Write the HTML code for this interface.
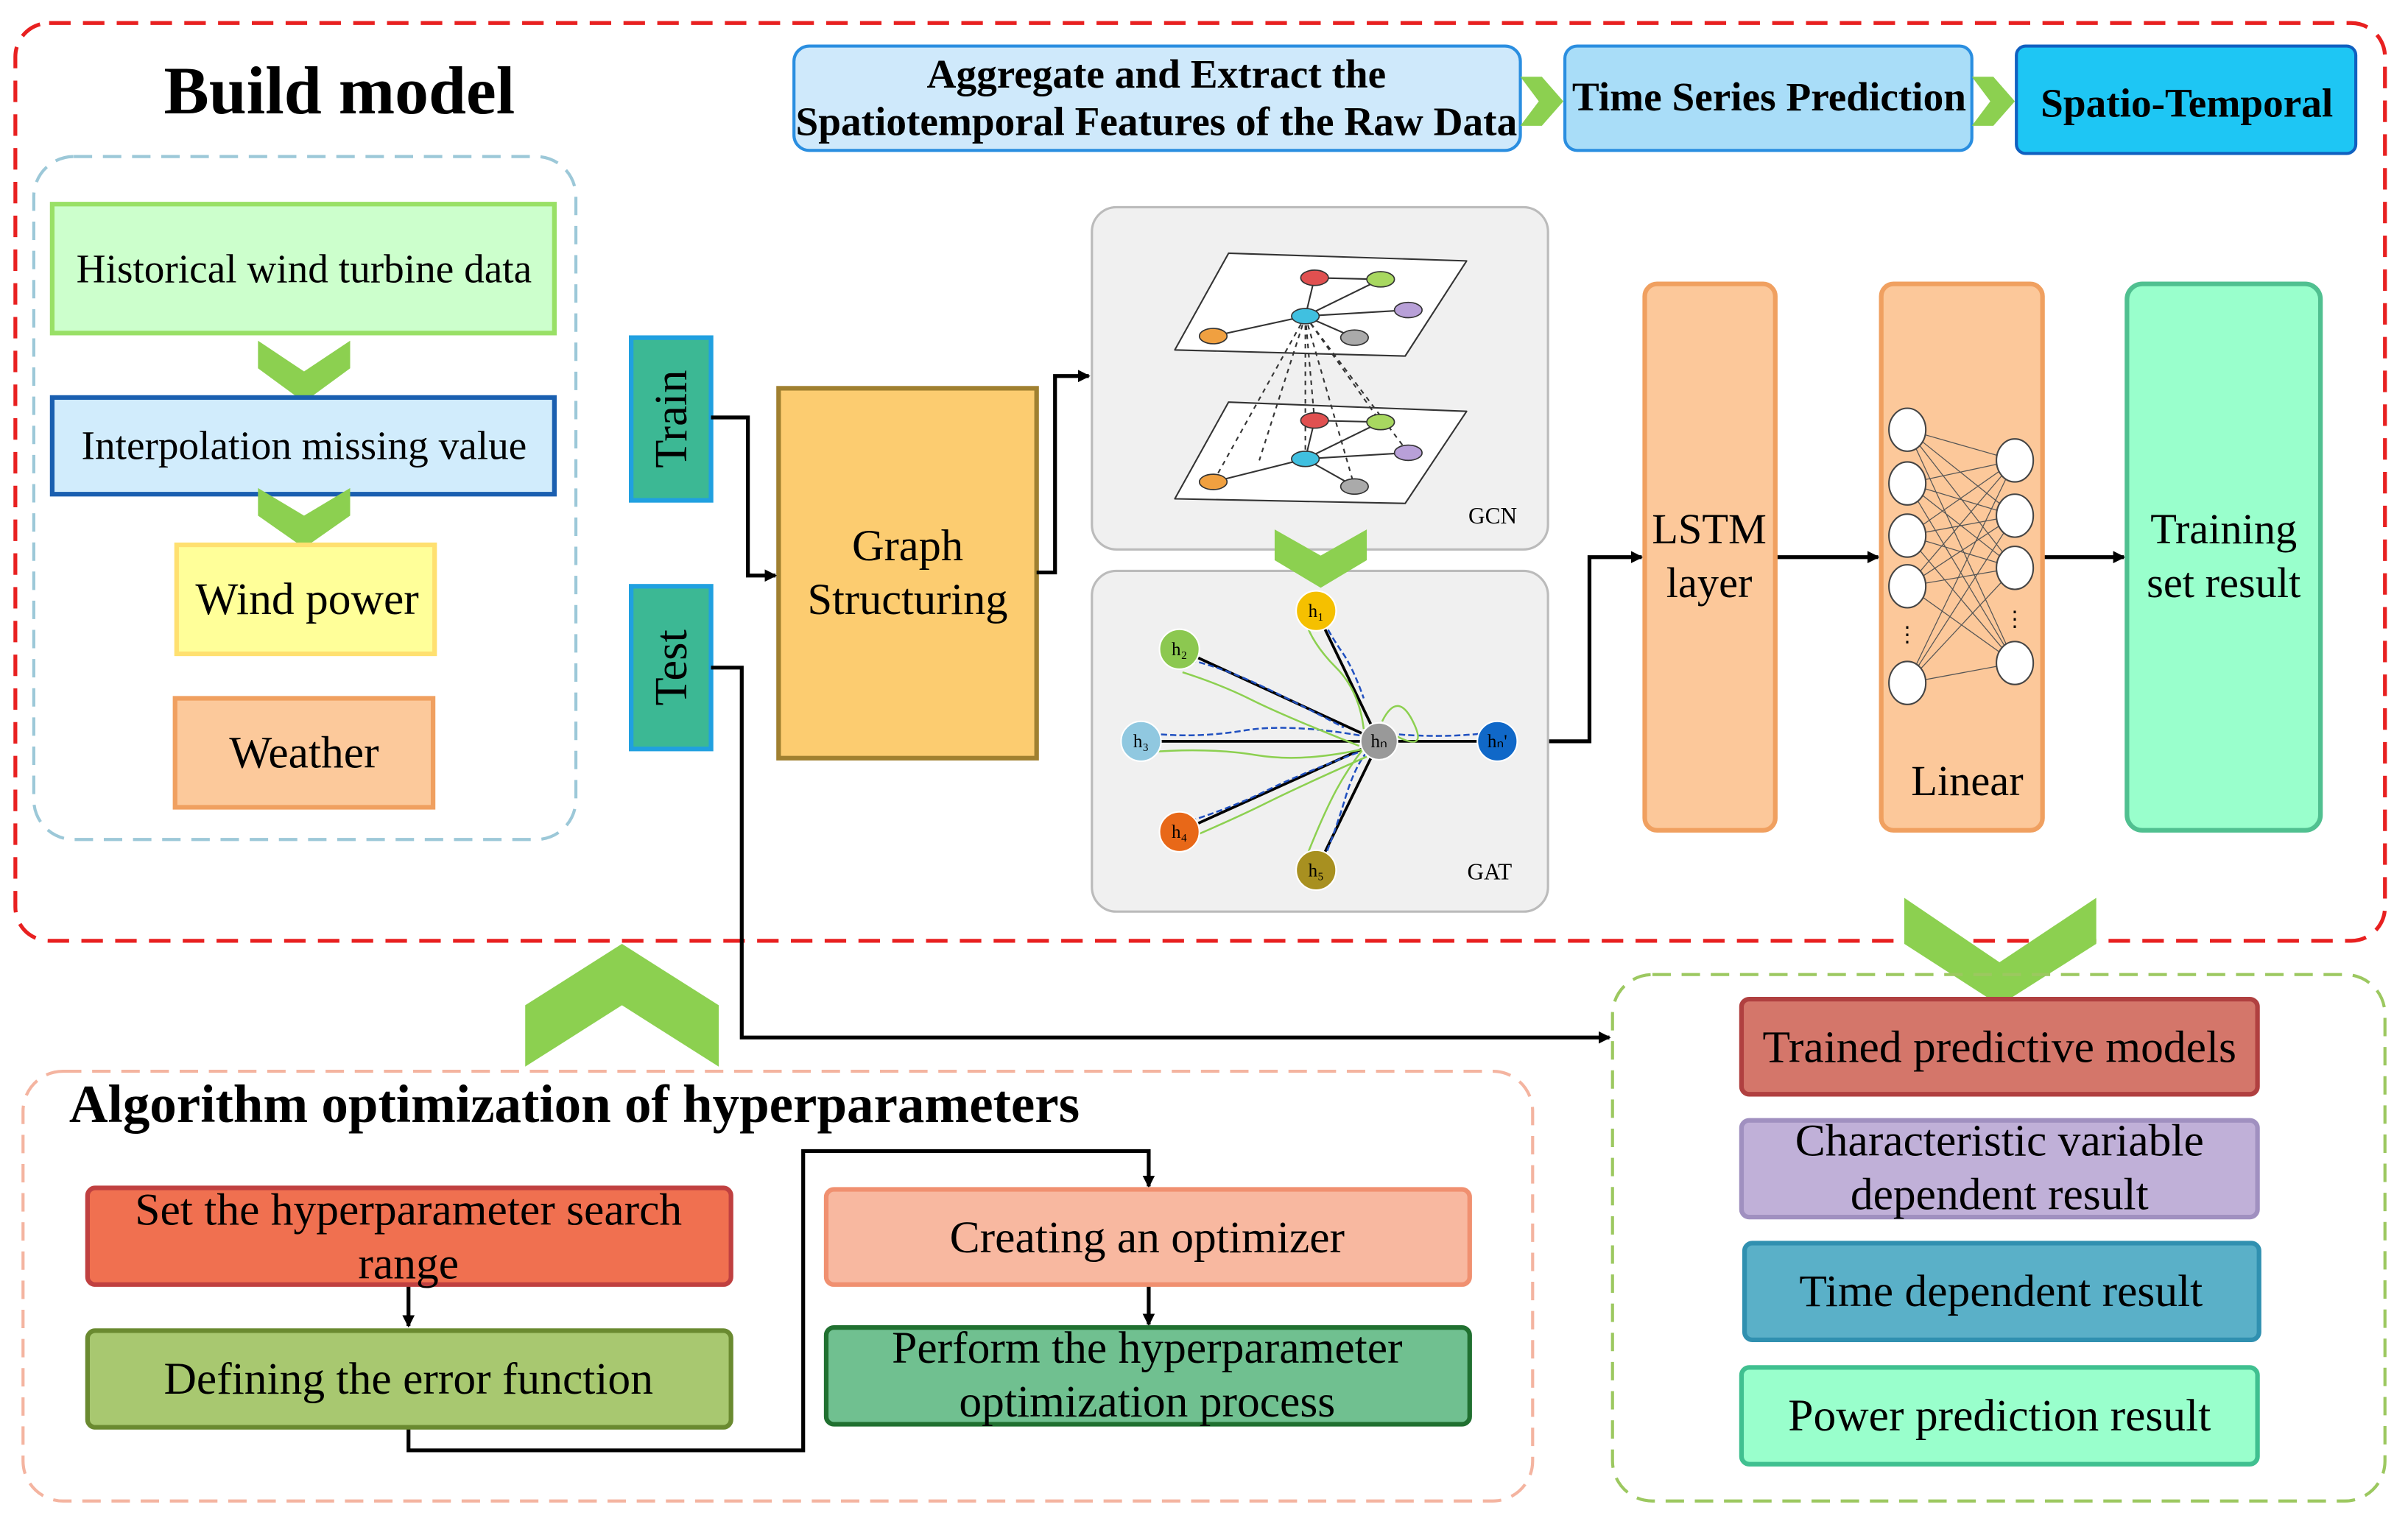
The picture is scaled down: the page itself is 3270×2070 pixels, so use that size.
<!DOCTYPE html>
<html><head><meta charset="utf-8"><style>
html,body{margin:0;padding:0;background:#fff;}
svg{display:block;}
text{font-family:"Liberation Serif",serif;}
</style></head><body>
<svg width="3270" height="2070" viewBox="0 0 1568 993" preserveAspectRatio="none" xmlns="http://www.w3.org/2000/svg">
<defs>
<marker id="ar" markerWidth="8" markerHeight="8" refX="7" refY="4" orient="auto" markerUnits="userSpaceOnUse"><path d="M0,0 L8,4 L0,8 Z" fill="#000"/></marker>
</defs>
<rect x="0" y="0" width="1568" height="993" fill="#fff"/>
<rect x="10" y="15" width="1543" height="598" rx="22" fill="none" stroke="#e82020" stroke-width="2.5" stroke-dasharray="14,8"/>
<text x="221" y="74" font-size="44" font-weight="bold" text-anchor="middle">Build model</text>
<rect x="517" y="30" width="473" height="68" rx="10" fill="#cfe9fb" stroke="#2a8ee0" stroke-width="2"/>
<text x="753" y="57" font-size="26.5" font-weight="bold" text-anchor="middle">Aggregate and Extract the</text>
<text x="753" y="88" font-size="26.5" font-weight="bold" text-anchor="middle">Spatiotemporal Features of the Raw Data</text>
<path d="M990,50 L1004,50 L1018,66 L1004,82 L990,82 L1002,66 Z" fill="#8cd050"/>
<rect x="1019" y="30" width="265" height="68" rx="8" fill="#a9ddf8" stroke="#2a8ee0" stroke-width="2"/>
<text x="1152" y="72" font-size="26.5" font-weight="bold" text-anchor="middle">Time Series Prediction</text>
<path d="M1284,50 L1298,50 L1312,66 L1298,82 L1284,82 L1296,66 Z" fill="#8cd050"/>
<rect x="1313" y="30" width="221" height="70" rx="6" fill="#1ec6f4" stroke="#1060c0" stroke-width="2"/>
<text x="1424" y="76" font-size="26.5" font-weight="bold" text-anchor="middle">Spatio-Temporal</text>
<rect x="22" y="102" width="353" height="445" rx="26" fill="none" stroke="#9cc8d8" stroke-width="2" stroke-dasharray="12,7"/>
<rect x="34" y="133" width="327" height="84" fill="#ccffcc" stroke="#99e066" stroke-width="3"/>
<text x="198" y="184" font-size="26.5" text-anchor="middle">Historical wind turbine data</text>
<path d="M168,222 L198,242 L228,222 L228,240 L198,262 L168,240 Z" fill="#8cd050"/>
<rect x="34" y="259" width="327" height="63" fill="#d1ecfc" stroke="#1a5fb0" stroke-width="3"/>
<text x="198" y="299" font-size="26.5" text-anchor="middle">Interpolation missing value</text>
<path d="M168,318 L198,336 L228,318 L228,336 L198,357 L168,336 Z" fill="#8cd050"/>
<rect x="115" y="355" width="168" height="71" fill="#ffff99" stroke="#ffe070" stroke-width="3"/>
<text x="200" y="400" font-size="29.5" text-anchor="middle">Wind power</text>
<rect x="114" y="455" width="168" height="71" fill="#fcc99b" stroke="#f0a060" stroke-width="3"/>
<text x="198" y="500" font-size="29.5" text-anchor="middle">Weather</text>
<rect x="411" y="220" width="52" height="106" fill="#3cb894" stroke="#20a0e0" stroke-width="3"/>
<text transform="translate(447,273) rotate(-90)" font-size="30" text-anchor="middle">Train</text>
<rect x="411" y="382" width="52" height="106" fill="#3cb894" stroke="#20a0e0" stroke-width="3"/>
<text transform="translate(447,435) rotate(-90)" font-size="30" text-anchor="middle">Test</text>
<rect x="507" y="253" width="168" height="241" fill="#fccc70" stroke="#a08030" stroke-width="3"/>
<text x="591" y="365" font-size="29" text-anchor="middle">Graph</text>
<text x="591" y="400" font-size="29" text-anchor="middle">Structuring</text>
<g fill="none" stroke="#000" stroke-width="2.5">
<path d="M463,272 H487 V375 H505" marker-end="url(#ar)"/>
<path d="M675,373 H687 V245 H709" marker-end="url(#ar)"/>
<path d="M463,435 H483 V676 H1048" marker-end="url(#ar)"/>
<path d="M1008,483 H1035 V363 H1069" marker-end="url(#ar)"/>
<path d="M1156,363 H1223" marker-end="url(#ar)"/>
<path d="M1330,363 H1383" marker-end="url(#ar)"/>
<path d="M266,837 V864" marker-end="url(#ar)"/>
<path d="M266,930 V945 H523 V750 H748 V773" marker-end="url(#ar)"/>
<path d="M748,837 V863" marker-end="url(#ar)"/>
</g>
<rect x="711" y="135" width="297" height="223" rx="16" fill="#f0f0f0" stroke="#bbb" stroke-width="1.5"/>
<g stroke="#333" stroke-width="1" fill="#fff">
<path d="M800,165 L955,170 L915,232 L765,228 Z" stroke-linejoin="round"/>
<path d="M800,262 L955,268 L915,328 L765,325 Z" stroke-linejoin="round"/>
</g>
<g stroke="#333" stroke-width="1" fill="none">
<path d="M790,219 L850,206 L856,181 M850,206 L899,182 M850,206 L917,202 M850,206 L882,220 M856,181 L899,182"/>
<path d="M790,314 L850,299 L856,274 M850,299 L899,275 M850,299 L917,295 M850,299 L882,317 M856,274 L899,275"/>
<path d="M850,206 L790,314 M850,206 L850,299 M850,206 L882,317 M850,206 L917,295 M850,206 L856,274 M850,206 L899,275 M850,206 L820,300" stroke-dasharray="3,3"/>
</g>
<g stroke="#333" stroke-width="0.8">
<ellipse cx="856" cy="181" rx="9" ry="5" fill="#e05050"/><ellipse cx="899" cy="182" rx="9" ry="5" fill="#a8d860"/>
<ellipse cx="850" cy="206" rx="9" ry="5" fill="#40c0e0"/><ellipse cx="917" cy="202" rx="9" ry="5" fill="#b8a0d8"/>
<ellipse cx="790" cy="219" rx="9" ry="5" fill="#f0a040"/><ellipse cx="882" cy="220" rx="9" ry="5" fill="#aaa"/>
<ellipse cx="856" cy="274" rx="9" ry="5" fill="#e05050"/><ellipse cx="899" cy="275" rx="9" ry="5" fill="#a8d860"/>
<ellipse cx="850" cy="299" rx="9" ry="5" fill="#40c0e0"/><ellipse cx="917" cy="295" rx="9" ry="5" fill="#b8a0d8"/>
<ellipse cx="790" cy="314" rx="9" ry="5" fill="#f0a040"/><ellipse cx="882" cy="317" rx="9" ry="5" fill="#aaa"/>
</g>
<text x="972" y="341" font-size="15" text-anchor="middle">GCN</text>
<rect x="711" y="372" width="297" height="222" rx="16" fill="#f0f0f0" stroke="#bbb" stroke-width="1.5"/>
<g fill="none" stroke-width="1.2">
<path d="M857,398 L898,483 M768,423 L898,483 M743,483 L898,483 M768,542 L898,483 M857,567 L898,483 M898,483 L975,483" stroke="#000" stroke-width="1.8"/>
<path d="M862,405 q5,10 12,20 t14,30 M775,430 q20,5 40,14 t60,30 M750,478 q30,3 60,-2 t80,4 M775,535 q30,-10 50,-20 t60,-25 M862,560 q8,-20 14,-40 t14,-30 M905,478 q30,3 60,0" stroke="#2050c0" stroke-dasharray="4,2"/>
<path d="M850,405 q5,15 20,30 t18,40 M770,438 q25,8 45,18 t70,30 M748,490 q40,-3 70,2 t70,-4 M770,548 q35,-15 55,-25 t65,-30 M852,555 q10,-25 18,-40 t20,-30 M900,470 q10,-20 20,0 t-10,10" stroke="#8cd050"/>
</g>
<g stroke="#fff" stroke-width="1">
<circle cx="857" cy="398" r="13" fill="#f5c000"/><circle cx="768" cy="423" r="13" fill="#8cc850"/>
<circle cx="743" cy="483" r="13" fill="#90c8e0"/><circle cx="768" cy="542" r="13" fill="#e86818"/>
<circle cx="857" cy="567" r="13" fill="#a89020"/><circle cx="898" cy="483" r="12" fill="#999"/>
<circle cx="975" cy="483" r="13" fill="#1068c8"/>
</g>
<g font-size="12" text-anchor="middle" fill="#000">
<text x="857" y="402">h₁</text><text x="768" y="427">h₂</text><text x="743" y="487">h₃</text>
<text x="768" y="546">h₄</text><text x="857" y="571">h₅</text><text x="898" y="487">hₙ</text><text x="975" y="487">hₙ'</text>
</g>
<text x="970" y="573" font-size="15" text-anchor="middle">GAT</text>
<path d="M830,345 L860,362 L890,345 L890,365 L860,383 L830,365 Z" fill="#8cd050"/>
<rect x="1071" y="185" width="85" height="356" rx="8" fill="#fcc89a" stroke="#f0a060" stroke-width="3"/>
<text x="1113" y="354" font-size="28" text-anchor="middle">LSTM</text>
<text x="1113" y="389" font-size="28" text-anchor="middle">layer</text>
<rect x="1225" y="185" width="105" height="356" rx="8" fill="#fcc89a" stroke="#f0a060" stroke-width="3"/>
<g stroke="#555" stroke-width="0.6">
<path d="M1242,280 L1312,300 M1242,280 L1312,336 M1242,280 L1312,370 M1242,280 L1312,432 M1242,315 L1312,300 M1242,315 L1312,336 M1242,315 L1312,370 M1242,315 L1312,432 M1242,349 L1312,300 M1242,349 L1312,336 M1242,349 L1312,370 M1242,349 L1312,432 M1242,382 L1312,300 M1242,382 L1312,336 M1242,382 L1312,370 M1242,382 L1312,432 M1242,445 L1312,300 M1242,445 L1312,336 M1242,445 L1312,370 M1242,445 L1312,432"/>
</g>
<g fill="#fff" stroke="#444" stroke-width="1">
<ellipse cx="1242" cy="280" rx="12" ry="14"/><ellipse cx="1242" cy="315" rx="12" ry="14"/><ellipse cx="1242" cy="349" rx="12" ry="14"/><ellipse cx="1242" cy="382" rx="12" ry="14"/><ellipse cx="1242" cy="445" rx="12" ry="14"/>
<ellipse cx="1312" cy="300" rx="12" ry="14"/><ellipse cx="1312" cy="336" rx="12" ry="14"/><ellipse cx="1312" cy="370" rx="12" ry="14"/><ellipse cx="1312" cy="432" rx="12" ry="14"/>
</g>
<text x="1242" y="418" font-size="14" text-anchor="middle">⋮</text><text x="1312" y="408" font-size="14" text-anchor="middle">⋮</text>
<text x="1281" y="518" font-size="28" text-anchor="middle">Linear</text>
<rect x="1385" y="185" width="126" height="356" rx="10" fill="#99ffcc" stroke="#50c090" stroke-width="3"/>
<text x="1448" y="354" font-size="28" text-anchor="middle">Training</text>
<text x="1448" y="389" font-size="28" text-anchor="middle">set result</text>
<path d="M1240,585 L1302,627 L1365,585 L1365,615 L1302,655 L1240,615 Z" fill="#8cd050"/>
<path d="M342,655 L405,615 L468,655 L468,695 L405,655 L342,695 Z" fill="#8cd050"/>
<rect x="1050" y="635" width="503" height="343" rx="26" fill="none" stroke="#9cc860" stroke-width="2" stroke-dasharray="12,7"/>
<rect x="1134" y="651" width="336" height="62" rx="5" fill="#d4766a" stroke="#b04040" stroke-width="3"/>
<text x="1302" y="692" font-size="29.5" text-anchor="middle">Trained predictive models</text>
<rect x="1134" y="730" width="336" height="63" rx="5" fill="#c0b0d8" stroke="#a090c0" stroke-width="3"/>
<text x="1302" y="753" font-size="29.5" text-anchor="middle">Characteristic variable</text>
<text x="1302" y="788" font-size="29.5" text-anchor="middle">dependent result</text>
<rect x="1136" y="810" width="335" height="63" rx="5" fill="#5ab0c8" stroke="#3090b0" stroke-width="3"/>
<text x="1303" y="851" font-size="29.5" text-anchor="middle">Time dependent result</text>
<rect x="1134" y="891" width="336" height="63" rx="5" fill="#99ffcc" stroke="#40c090" stroke-width="3"/>
<text x="1302" y="932" font-size="29.5" text-anchor="middle">Power prediction result</text>
<rect x="15" y="698" width="983" height="280" rx="26" fill="none" stroke="#f4b4a0" stroke-width="2" stroke-dasharray="12,7"/>
<rect x="40" y="700" width="680" height="40" fill="#fff"/>
<text x="45" y="731" font-size="35" font-weight="bold">Algorithm optimization of hyperparameters</text>
<rect x="57" y="774" width="419" height="63" rx="5" fill="#f07050" stroke="#c04040" stroke-width="3"/>
<text x="266" y="798" font-size="29.5" text-anchor="middle">Set the hyperparameter search</text>
<text x="266" y="833" font-size="29.5" text-anchor="middle">range</text>
<rect x="57" y="867" width="419" height="63" rx="5" fill="#a8c870" stroke="#6a8a30" stroke-width="3"/>
<text x="266" y="908" font-size="29.5" text-anchor="middle">Defining the error function</text>
<rect x="538" y="775" width="419" height="62" rx="5" fill="#f8b8a0" stroke="#f09070" stroke-width="3"/>
<text x="747" y="816" font-size="29.5" text-anchor="middle">Creating an optimizer</text>
<rect x="538" y="865" width="419" height="63" rx="5" fill="#70c090" stroke="#207030" stroke-width="3"/>
<text x="747" y="888" font-size="29.5" text-anchor="middle">Perform the hyperparameter</text>
<text x="747" y="923" font-size="29.5" text-anchor="middle">optimization process</text>
</svg>
</body></html>
